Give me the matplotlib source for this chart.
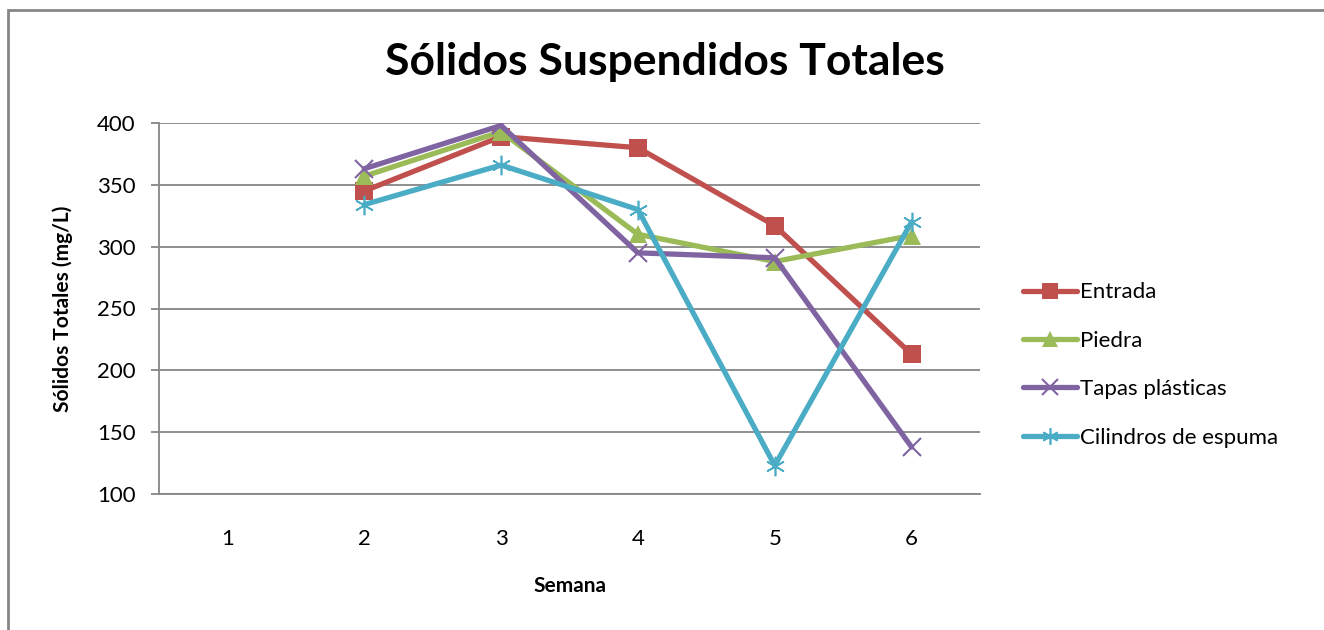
import numpy as np
import matplotlib.pyplot as plt
from matplotlib.patches import Rectangle

plt.rcParams['font.family'] = ['Lato', 'DejaVu Sans']

semanas = [1, 2, 3, 4, 5, 6]
entrada = [np.nan, 345, 389, 380, 317, 213]
piedra = [np.nan, 357, 393, 310, 288, 309]
tapas = [np.nan, 363, 398, 295, 291, 138]
cilindros = [np.nan, 334, 366, 330, 123, 320]

series = [
    ("Entrada", entrada, "#C0504D", "s", 13, 0.0),
    ("Piedra", piedra, "#9BBB59", "^", 13, 0.0),
    ("Tapas plásticas", tapas, "#8064A2", "x", 13, 1.5),
    ("Cilindros de espuma", cilindros, "#4BACC6", (6, 2, 0), 14, 1.2),
]

fig = plt.figure(figsize=(13.24, 6.3), dpi=100)
ax = fig.add_axes([159 / 1324, 1 - 494 / 630, 821 / 1324, 371 / 630])

x = np.arange(len(semanas))
for name, vals, color, marker, ms, mew in series:
    ax.plot(x, vals, color=color, lw=3.8, marker=marker, markersize=ms,
            markerfacecolor=color, markeredgecolor=color, label=name,
            markeredgewidth=mew, solid_capstyle='round')

ax.set_xlim(-0.5, len(semanas) - 0.5)
ax.set_ylim(100, 400)
ax.set_yticks(range(100, 401, 50))
ax.set_xticks(x)
ax.set_xticklabels([str(s) for s in semanas])
ax.grid(axis='y', color='#868686', lw=1.3)
ax.set_axisbelow(True)
for side in ['top', 'right']:
    ax.spines[side].set_visible(False)
for side in ['left', 'bottom']:
    ax.spines[side].set_color('#868686')
    ax.spines[side].set_linewidth(1.3)
ax.tick_params(axis='y', length=6, color='#868686', width=1.3, pad=11, labelsize=16)
ax.tick_params(axis='x', length=0, pad=25, labelsize=16)

ax.set_xlabel("Semana", fontsize=15, fontweight='bold', labelpad=20)
ax.set_ylabel("Sólidos Totales (mg/L)", fontsize=15, fontweight='bold', labelpad=17)
fig.text(665 / 1324, 1 - 62 / 630, "Sólidos Suspendidos Totales", ha='center',
         va='center', fontsize=32, fontweight='bold')

fig.legend(loc='center left', bbox_to_anchor=(1003 / 1324, 1 - 365 / 630),
           frameon=False, fontsize=16, labelspacing=1.28, handlelength=2.45,
           handletextpad=0.12, markerscale=0.85)

fig.patches.append(Rectangle((8 / 1324, -0.1), 1.1, 1.1 - 10 / 630,
                             transform=fig.transFigure, fill=False,
                             edgecolor='#868686', lw=2))

fig.savefig("out.png", dpi=100)
